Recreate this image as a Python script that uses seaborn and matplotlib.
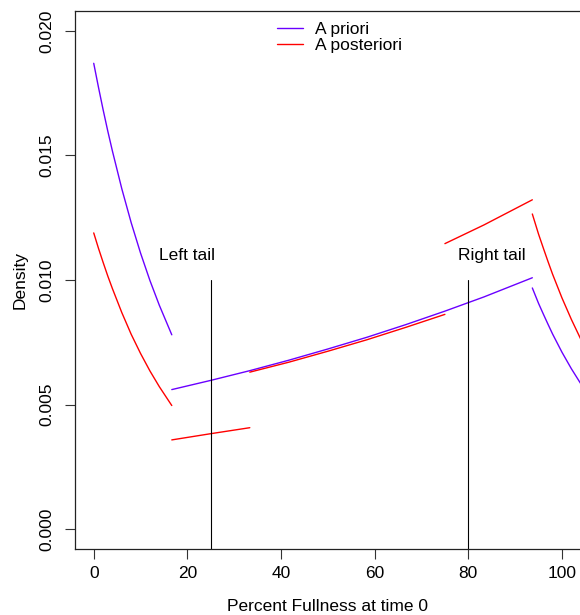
import matplotlib
matplotlib.use("Agg")
import matplotlib.pyplot as plt
from matplotlib.lines import Line2D
import seaborn as sns
import pandas as pd

# ---- data ----
series_names = ["A priori", "A posteriori"]
series_colors = ["#6a00ff", "#ff0000"]

# A priori segments
prior_x1 = [0, 1, 2, 3, 4, 6, 8, 10, 12, 14, 16.67]
prior_y1 = [0.0187, 0.01775, 0.01684, 0.01598, 0.01517, 0.01366, 0.01230, 0.01108, 0.00998, 0.00899, 0.0078]
prior_x2 = [16.67, 25, 33.33, 41.67, 50, 58.33, 66.67, 75, 83.33, 93.67]
prior_y2 = [0.0056, 0.00597, 0.00636, 0.00678, 0.00723, 0.00770, 0.00821, 0.00875, 0.00932, 0.01009]
prior_x3 = [93.67, 95, 96, 97, 98, 100, 102, 104, 106]
prior_y3 = [0.00968, 0.00906, 0.00864, 0.00823, 0.00783, 0.00710, 0.00644, 0.00584, 0.00529]

# A posteriori segments
post_x1 = [0, 1, 2, 3, 4, 6, 8, 10, 12, 14, 16.67]
post_y1 = [0.01189, 0.01128, 0.01071, 0.01016, 0.00965, 0.00869, 0.00782, 0.00705, 0.00635, 0.00572, 0.00496]
post_x2 = [16.67, 25, 33.33]
post_y2 = [0.00358, 0.00383, 0.00407]
post_x3 = [33.33, 41.67, 50, 58.33, 66.67, 75]
post_y3 = [0.0063, 0.0067, 0.00714, 0.0076, 0.0081, 0.00862]
post_x4 = [75, 83.33, 93.67]
post_y4 = [0.01146, 0.01221, 0.01322]
post_x5 = [93.67, 95, 96, 97, 98, 100, 102, 104, 106]
post_y5 = [0.01265, 0.01184, 0.01129, 0.01075, 0.01023, 0.00928, 0.00842, 0.00763, 0.00691]

tail_x = [25, 80]
tail_top = 0.010
tail_bottom = -0.002
tail_labels = ["Left tail", "Right tail"]
tail_label_x = [20, 85]
tail_label_y = 0.011

x_ticks = [0, 20, 40, 60, 80, 100]
y_ticks = [0.000, 0.005, 0.010, 0.015, 0.020]

# ---- build table ----
rows = []
prior_segs = [(prior_x1, prior_y1), (prior_x2, prior_y2), (prior_x3, prior_y3)]
post_segs = [(post_x1, post_y1), (post_x2, post_y2), (post_x3, post_y3),
             (post_x4, post_y4), (post_x5, post_y5)]
for name, segs in zip(series_names, [prior_segs, post_segs]):
    for i, (xs, ys) in enumerate(segs):
        for xv, yv in zip(xs, ys):
            rows.append({"x": xv, "y": yv, "series": name, "seg": f"{name}-{i}"})
df = pd.DataFrame(rows)

sns.set_style("ticks")
plt.rcParams["font.family"] = ["Liberation Sans", "DejaVu Sans"]
plt.rcParams["font.size"] = 12.5
plt.rcParams["text.color"] = "black"
plt.rcParams["axes.labelcolor"] = "black"
plt.rcParams["xtick.color"] = "#333333"
plt.rcParams["ytick.color"] = "#333333"
plt.rcParams["xtick.labelcolor"] = "black"
plt.rcParams["ytick.labelcolor"] = "black"

fig = plt.figure(figsize=(5.8, 6.15), dpi=100)
ax = fig.add_axes([75 / 580, (615 - 549) / 615, 505.7 / 580, 538 / 615])

sns.lineplot(data=df, x="x", y="y", hue="series", units="seg", estimator=None,
             palette=dict(zip(series_names, series_colors)), hue_order=series_names,
             linewidth=1.0, legend=False, ax=ax, sort=False)

for tx in tail_x:
    ax.plot([tx, tx], [tail_bottom, tail_top], color="black", linewidth=0.8)
for lx, lab in zip(tail_label_x, tail_labels):
    ax.text(lx, tail_label_y, lab, ha="center", va="center", fontsize=12.5, color="black")

ax.set_xlim(-4, 104)
ax.set_ylim(-0.0008, 0.0208)
ax.set_xticks(x_ticks)
ax.set_xticklabels([str(v) for v in x_ticks])
ax.set_yticks(y_ticks)
ax.set_yticklabels([f"{v:.3f}" for v in y_ticks], rotation=90, va="center")
ax.tick_params(axis="both", direction="out", length=7, width=0.8, labelsize=12.5)
ax.tick_params(axis="x", pad=5)
ax.tick_params(axis="y", pad=8)
for s in ax.spines.values():
    s.set_visible(True)
    s.set_linewidth(0.9)
    s.set_color("#222222")

ax.set_xlabel("Percent Fullness at time 0", fontsize=12.5, labelpad=13, color="black")
ax.set_ylabel("Density", fontsize=12.5, labelpad=8, color="black")

handles = [Line2D([0], [0], color=c, lw=1.0) for c in series_colors]
leg = ax.legend(handles, series_names, loc="upper left", bbox_to_anchor=(0.378, 1.0),
                frameon=False, handlelength=1.45, handletextpad=0.7, labelspacing=0.0,
                fontsize=12.5, borderaxespad=0.25)
for t in leg.get_texts():
    t.set_color("black")

fig.savefig("out.png", dpi=100)
